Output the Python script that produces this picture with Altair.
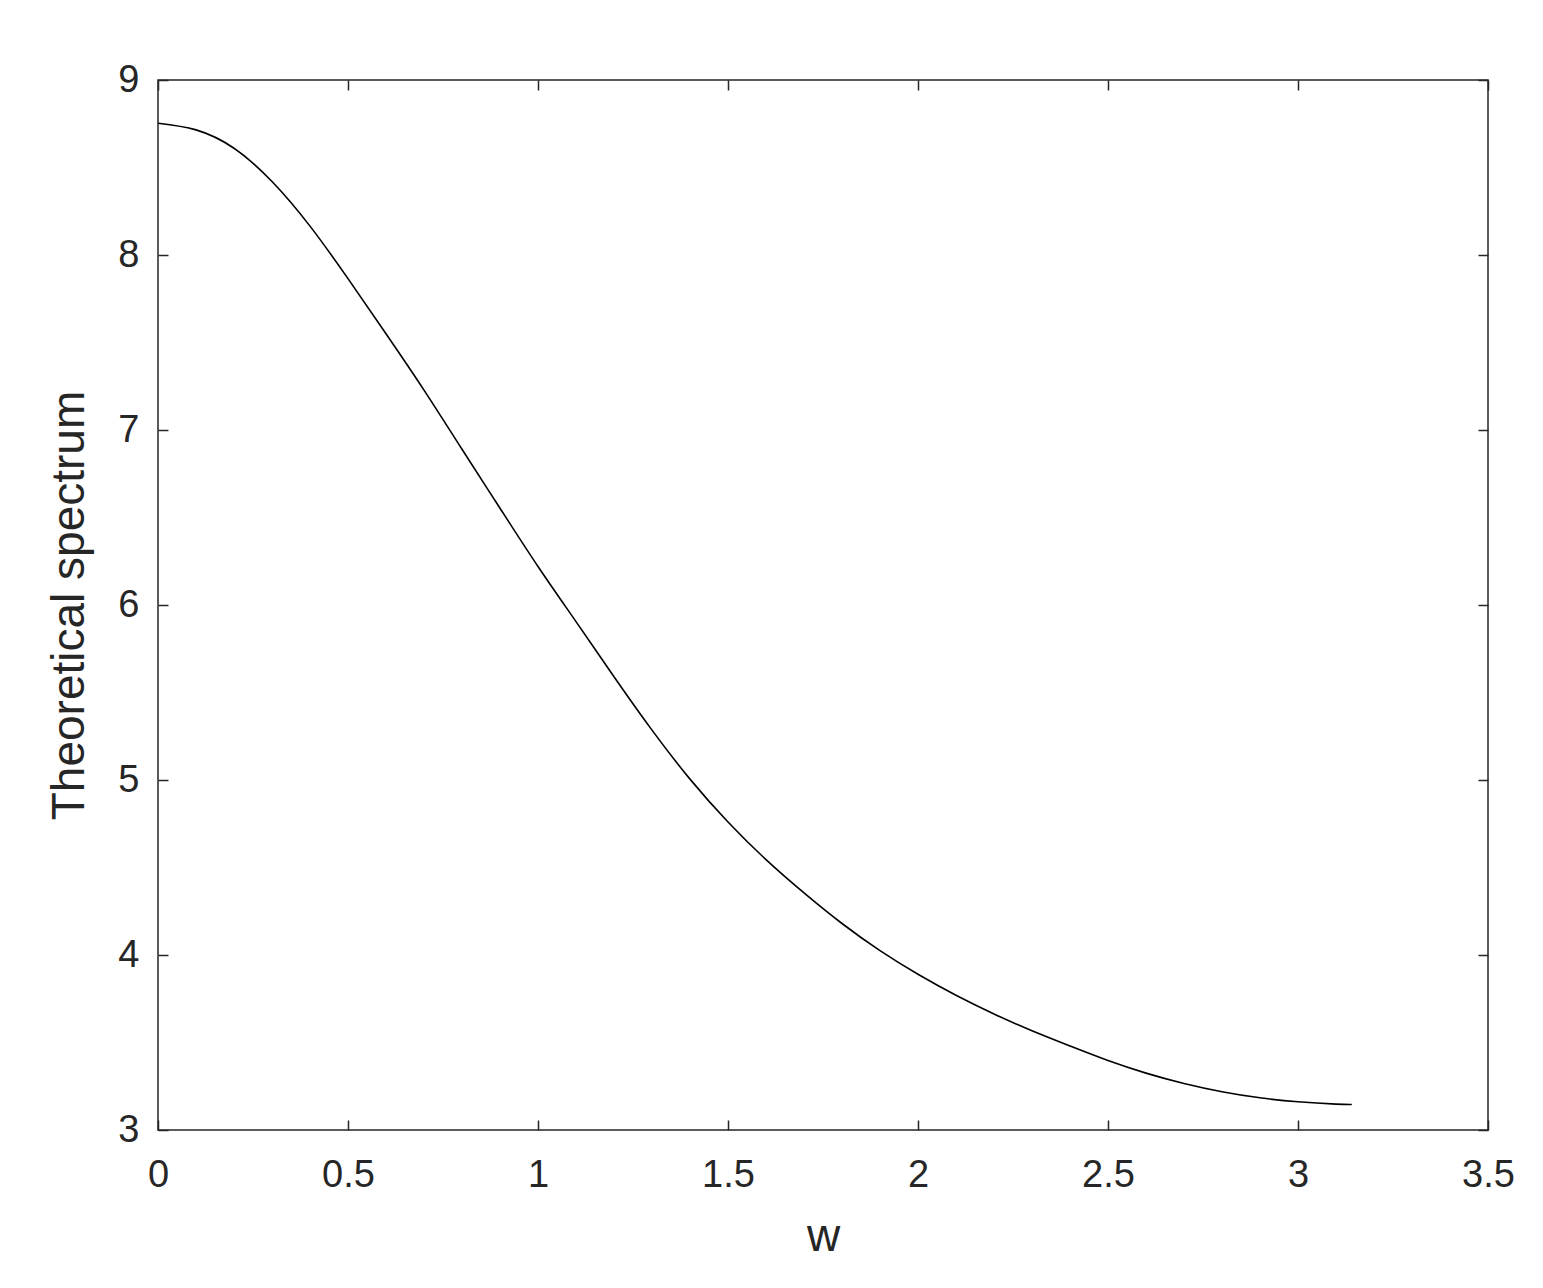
import altair as alt
import pandas as pd

# Curve
w_values = [0.0, 0.1, 0.2, 0.3, 0.4, 0.5, 0.6, 0.7, 0.8, 0.9,
            1.0, 1.1, 1.2, 1.3, 1.4, 1.5, 1.6, 1.7, 1.8, 1.9,
            2.0, 2.1, 2.2, 2.3, 2.4, 2.5, 2.6, 2.7, 2.8, 2.9,
            3.0, 3.1, 3.1416]
spectrum_values = [8.753, 8.715, 8.61, 8.42, 8.165, 7.865, 7.55, 7.228, 6.89, 6.553,
                   6.22, 5.905, 5.59, 5.285, 5.005, 4.76, 4.545, 4.355, 4.18, 4.025,
                   3.89, 3.77, 3.663, 3.567, 3.48, 3.397, 3.325, 3.266, 3.219, 3.184,
                   3.161, 3.148, 3.146]

x_ticks = [0, 0.5, 1, 1.5, 2, 2.5, 3, 3.5]
y_ticks = [3, 4, 5, 6, 7, 8, 9]

df = pd.DataFrame({"w": w_values, "S": spectrum_values})

x_scale = alt.Scale(domain=[0, 3.5], nice=False, zero=False)
y_scale = alt.Scale(domain=[3, 9], nice=False, zero=False)

base = alt.Chart(df)

main = base.mark_line(color="black", strokeWidth=1.6, interpolate="natural").encode(
    x=alt.X("w:Q", scale=x_scale,
            axis=alt.Axis(orient="bottom", values=x_ticks, format="~g", title="w",
                          offset=-10, tickSize=10, labelPadding=26, titlePadding=20,
                          labelFlush=False, labelOverlap=False)),
    y=alt.Y("S:Q", scale=y_scale,
            axis=alt.Axis(orient="left", values=y_ticks, format="~g",
                          title="Theoretical spectrum",
                          offset=-10, tickSize=10, labelPadding=19, titlePadding=24,
                          labelOverlap=False)),
)

ghost = base.mark_line(opacity=0).encode(
    x=alt.X("w:Q", scale=x_scale,
            axis=alt.Axis(orient="top", values=x_ticks, labels=False, title=None,
                          offset=-10, tickSize=10)),
    y=alt.Y("S:Q", scale=y_scale,
            axis=alt.Axis(orient="right", values=y_ticks, labels=False, title=None,
                          offset=-10, tickSize=10)),
)

chart = (
    alt.layer(main, ghost)
    .resolve_axis(x="independent", y="independent")
    .properties(
        width=1330,
        height=1050,
        padding={"left": 150, "top": 72, "right": 40, "bottom": 150},
        autosize=alt.AutoSizeParams(type="none"),
        background="white",
    )
    .configure_view(stroke="#262626", strokeWidth=1.5)
    .configure_axis(
        grid=False,
        domain=False,
        tickColor="#262626",
        tickWidth=1.5,
        labelColor="#262626",
        titleColor="#262626",
        labelFont="Liberation Sans",
        titleFont="Liberation Sans",
        labelFontSize=38,
        titleFontSize=46,
        titleFontWeight="normal",
    )
)

chart.save("out.html", embed_options={"renderer": "svg", "actions": False})
